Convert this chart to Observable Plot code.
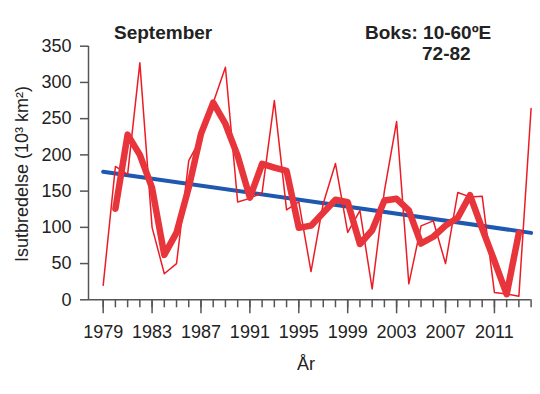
<!DOCTYPE html>
<html><head><meta charset="utf-8">
<script src="https://cdn.jsdelivr.net/npm/d3@7"></script>
<script src="https://cdn.jsdelivr.net/npm/@observablehq/plot@0.6"></script>
<style>body{margin:0;background:#fff} svg{display:block}</style>
</head><body><div id="chart"></div>
<script>
const years = [1979,1980,1981,1982,1983,1984,1985,1986,1987,1988,1989,1990,1991,1992,1993,1994,1995,1996,1997,1998,1999,2000,2001,2002,2003,2004,2005,2006,2007,2008,2009,2010,2011,2012,2013,2014];
const extent = [20,184,173,327,100,36,50,192,223,272,321,135,140,148,275,124,135,39,133,188,93,123,15,150,246,22,102,109,50,148,142,143,10,8,5,264];
const majorYears = [1979,1983,1987,1991,1995,1999,2003,2007,2011];
const yTicks = [0,50,100,150,200,250,300,350];
const title = "September";
const boxLine1 = "Boks: 10-60ºE";
const boxLine2 = "72-82";
const xLabel = "År";
const yLabel = "Isutbredelse (10³ km²)";

const data = years.map((y,i)=>({year:y, extent:extent[i]}));
const axisColor = "#555";
const font = "'Liberation Sans', Arial, sans-serif";

const chart = Plot.plot({
  width:540, height:394,
  marginLeft:88, marginRight:9.4, marginTop:45.7, marginBottom:94.7,
  x:{domain:[1977.8,2014]},
  y:{domain:[0,350]},
  style:{fontFamily:font, fontSize:"18px", color:"#222", background:"#fff"},
  marks:[
    Plot.axisY({ticks:yTicks, tickSize:8, tickPadding:9, label:null, stroke:axisColor, strokeWidth:1.5, fill:"#222"}),
    Plot.ruleX([1977.8], {y1:0, y2:350, stroke:axisColor, strokeWidth:1.5}),
    Plot.ruleY([0], {stroke:axisColor, strokeWidth:1.5}),
    Plot.axisX({ticks:years, tickSize:8, tickFormat:()=>"", label:null, stroke:axisColor, strokeWidth:1.5}),
    Plot.axisX({ticks:majorYears, tickSize:14, tickPadding:11, tickFormat:"d", label:null, stroke:axisColor, strokeWidth:1.5, fill:"#222"}),
    Plot.linearRegressionY(data, {x:"year", y:"extent", stroke:"#1f58b0", strokeWidth:4, ci:0}),
    Plot.line(data, {x:"year", y:"extent", stroke:"#ed1c24", strokeWidth:1.5}),
    Plot.line(data, Plot.windowY({k:3, strict:true, reduce:"mean"}, {x:"year", y:"extent", stroke:"#e8343b", strokeWidth:6.5, strokeLinejoin:"round", strokeLinecap:"round"}))
  ]
});

const svg = d3.select(chart);
const addText = (x, y, txt, opts = {}) => svg.append("text")
  .attr("x", x).attr("y", y)
  .attr("text-anchor", opts.anchor || "start")
  .attr("font-weight", opts.bold ? "bold" : "normal")
  .attr("font-size", opts.size || 18)
  .attr("font-family", font)
  .attr("fill", "#222")
  .attr("transform", opts.transform || null)
  .text(txt);
addText(114, 38.5, title, {bold:true, size:19});
addText(365, 38.5, boxLine1, {bold:true, size:19});
addText(422, 60, boxLine2, {bold:true, size:19});
addText(306, 370, xLabel, {anchor:"middle"});
addText(0, 0, yLabel, {anchor:"middle", transform:"translate(28,174) rotate(-90)"});

document.getElementById("chart").appendChild(chart);
</script>
</body></html>
